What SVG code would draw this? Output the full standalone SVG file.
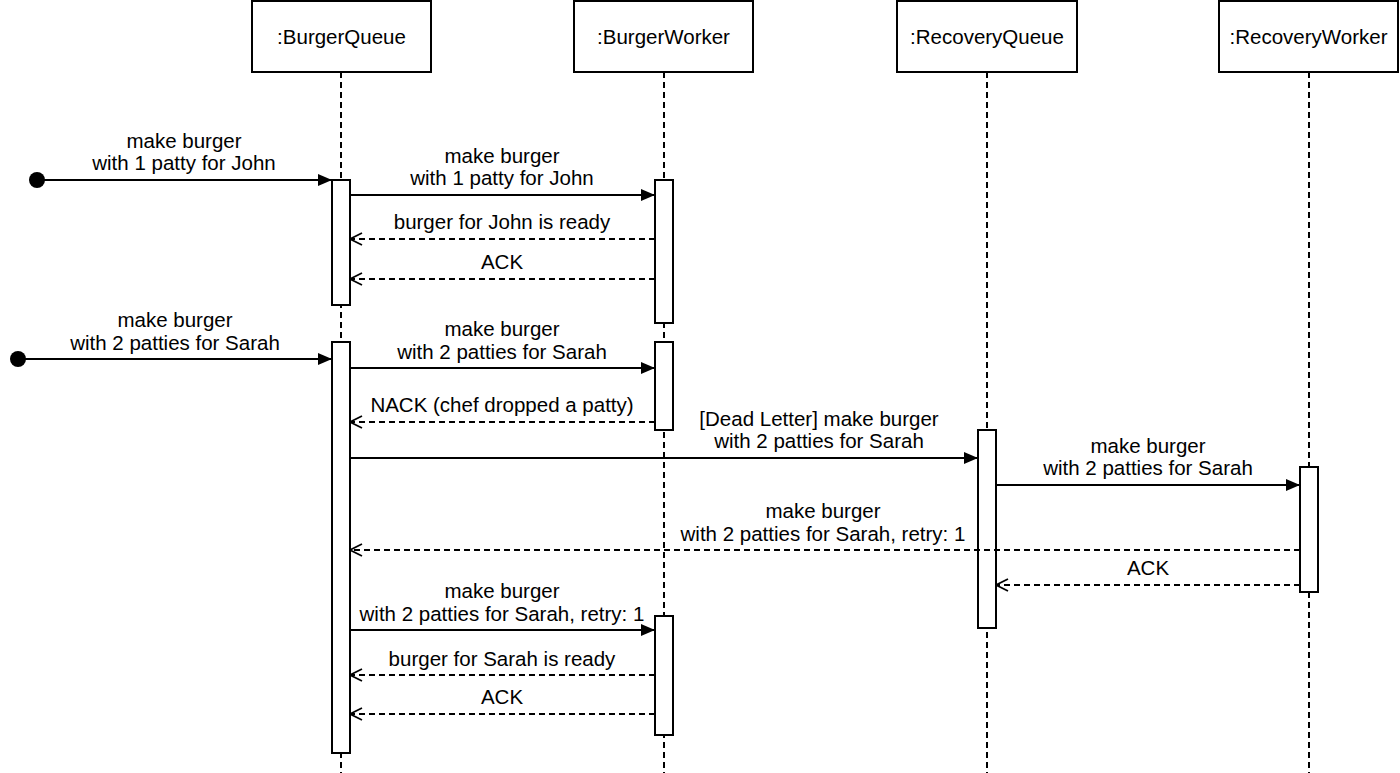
<svg xmlns="http://www.w3.org/2000/svg" width="1400" height="773" viewBox="0 0 1400 773">
<defs>
<style>
.hdr{fill:#fff;stroke:#000;stroke-width:2}
.life{stroke:#000;stroke-width:2;stroke-dasharray:6 4;fill:none}
.bar{fill:#fff;stroke:#000;stroke-width:2}
.t{font-family:"Liberation Sans",Arial,Helvetica,sans-serif;font-size:20.5px;fill:#000;text-anchor:middle}
.sync{stroke:#000;stroke-width:2.2;fill:none;marker-end:url(#fill)}
.ret{stroke:#000;stroke-width:2;stroke-dasharray:6 4;fill:none;marker-end:url(#open)}
</style>
<marker id="fill" viewBox="0 0 14 12" refX="14" refY="6" markerWidth="14" markerHeight="12" markerUnits="userSpaceOnUse" orient="auto">
<path d="M0,0 L14,6 L0,12 Z" fill="#000"/>
</marker>
<marker id="open" viewBox="0 0 14 14" refX="13" refY="7" markerWidth="14" markerHeight="14" markerUnits="userSpaceOnUse" orient="auto">
<path d="M1,1 L13,7 L1,13" fill="none" stroke="#000" stroke-width="1.8"/>
</marker>
</defs>
<rect width="1400" height="773" fill="#fff"/>

<g id="burgerQueue">
<line class="life" x1="341" y1="72" x2="341" y2="773"/>
<rect class="hdr" x="252" y="1" width="179" height="71"/>
<text class="t" x="341.5" y="44">:BurgerQueue</text>
<rect class="bar" x="332" y="180" width="18" height="125"/>
<rect class="bar" x="332" y="342" width="18" height="411"/>
</g>
<g id="burgerWorker">
<line class="life" x1="664" y1="72" x2="664" y2="773"/>
<rect class="hdr" x="574" y="1" width="179" height="71"/>
<text class="t" x="663.5" y="44">:BurgerWorker</text>
<rect class="bar" x="655" y="180" width="18" height="143"/>
<rect class="bar" x="655" y="342" width="18" height="88"/>
<rect class="bar" x="655" y="616" width="18" height="119"/>
</g>
<g id="recoveryQueue">
<line class="life" x1="987" y1="72" x2="987" y2="773"/>
<rect class="hdr" x="897" y="1" width="180" height="71"/>
<text class="t" x="987" y="44">:RecoveryQueue</text>
<rect class="bar" x="978" y="430" width="18" height="198"/>
</g>
<g id="recoveryWorker">
<line class="life" x1="1309" y1="72" x2="1309" y2="773"/>
<rect class="hdr" x="1219" y="1" width="179" height="71"/>
<text class="t" x="1308.5" y="44">:RecoveryWorker</text>
<rect class="bar" x="1300" y="467" width="18" height="125"/>
</g>

<g id="connectors">
<circle cx="37" cy="180" r="8" fill="#000"/>
<line class="sync" x1="37" y1="180" x2="332" y2="180"/>
<line class="sync" x1="350" y1="195" x2="655" y2="195"/>
<line class="ret" x1="655" y1="239" x2="350" y2="239"/>
<line class="ret" x1="655" y1="279" x2="350" y2="279"/>
<circle cx="18" cy="359" r="8" fill="#000"/>
<line class="sync" x1="18" y1="359" x2="332" y2="359"/>
<line class="sync" x1="350" y1="368" x2="655" y2="368"/>
<line class="ret" x1="655" y1="422" x2="350" y2="422"/>
<line class="sync" x1="350" y1="458" x2="978" y2="458"/>
<line class="sync" x1="996" y1="485" x2="1300" y2="485"/>
<line class="ret" x1="1300" y1="550" x2="350" y2="550"/>
<line class="ret" x1="1300" y1="585" x2="996" y2="585"/>
<line class="sync" x1="350" y1="630" x2="655" y2="630"/>
<line class="ret" x1="655" y1="675" x2="350" y2="675"/>
<line class="ret" x1="655" y1="714" x2="350" y2="714"/>
</g>

<g id="labels">
<text class="t" x="184" y="148">make burger</text>
<text class="t" x="184" y="170">with 1 patty for John</text>
<text class="t" x="502" y="163">make burger</text>
<text class="t" x="502" y="185">with 1 patty for John</text>
<text class="t" x="502" y="229">burger for John is ready</text>
<text class="t" x="502" y="269">ACK</text>
<text class="t" x="175" y="327">make burger</text>
<text class="t" x="175" y="350">with 2 patties for Sarah</text>
<text class="t" x="502" y="336">make burger</text>
<text class="t" x="502" y="359">with 2 patties for Sarah</text>
<text class="t" x="502" y="412">NACK (chef dropped a patty)</text>
<text class="t" x="819" y="426">[Dead Letter] make burger</text>
<text class="t" x="819" y="448">with 2 patties for Sarah</text>
<text class="t" x="1148" y="453">make burger</text>
<text class="t" x="1148" y="475">with 2 patties for Sarah</text>
<text class="t" x="823" y="518">make burger</text>
<text class="t" x="823" y="541">with 2 patties for Sarah, retry: 1</text>
<text class="t" x="1148" y="575">ACK</text>
<text class="t" x="502" y="598">make burger</text>
<text class="t" x="502" y="621">with 2 patties for Sarah, retry: 1</text>
<text class="t" x="502" y="666">burger for Sarah is ready</text>
<text class="t" x="502" y="704">ACK</text>
</g>
</svg>
